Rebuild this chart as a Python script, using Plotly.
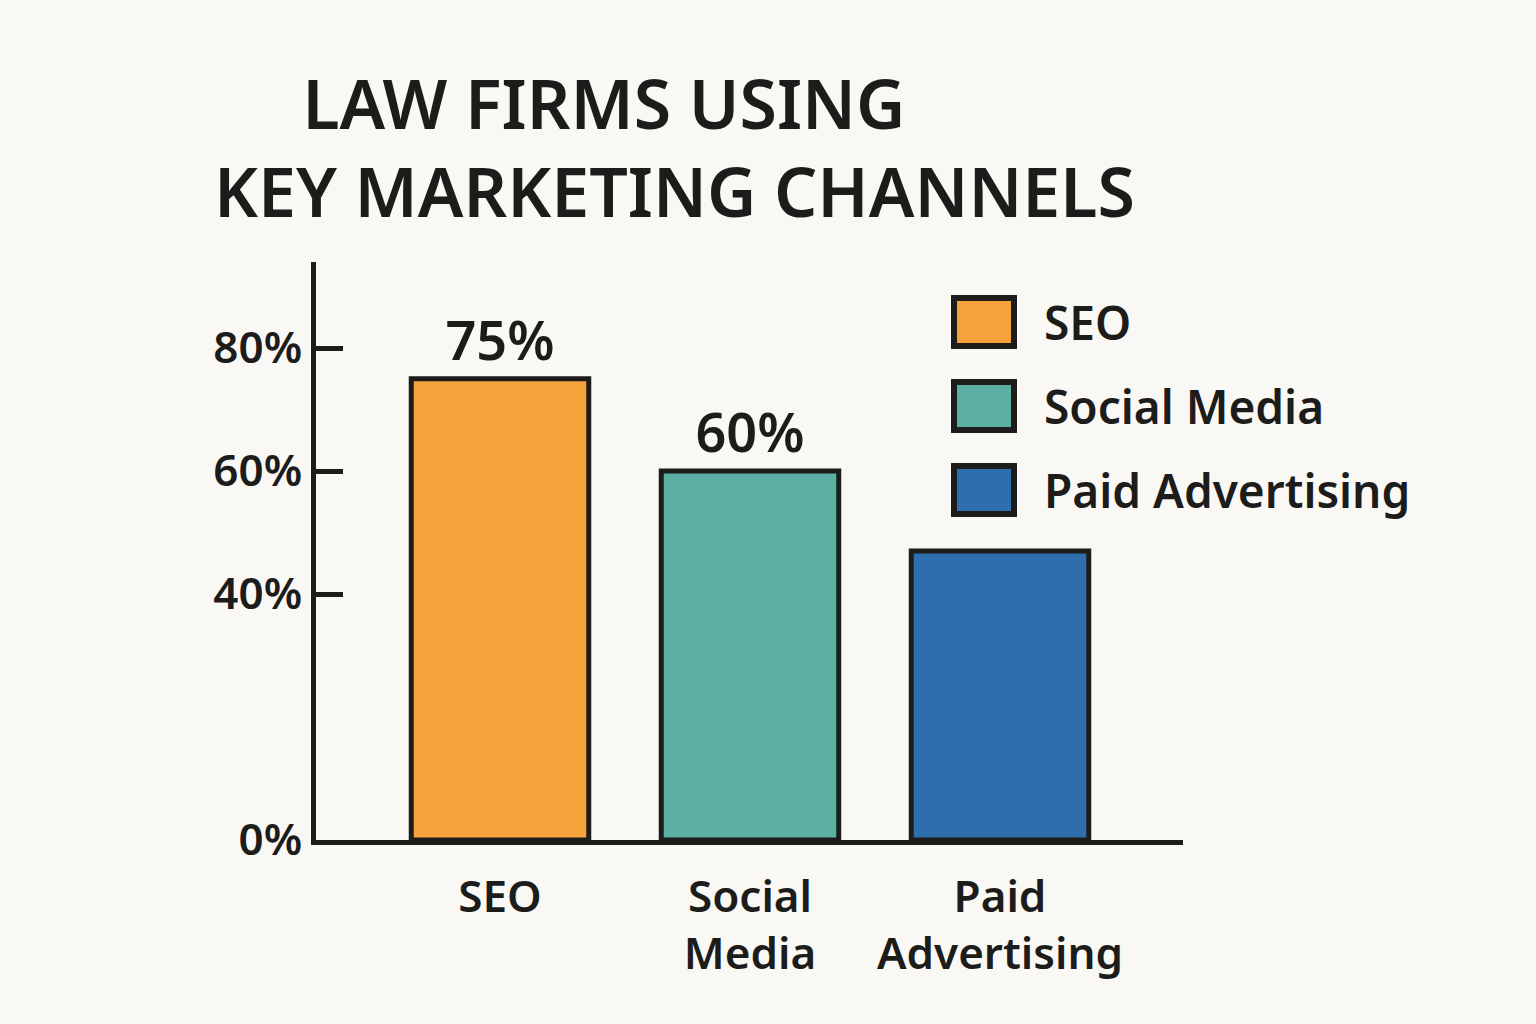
import plotly.graph_objects as go

# ---- data ----
categories = ["SEO", "Social Media", "Paid Advertising"]
tick_labels_x = ["SEO", "Social<br>Media", "Paid<br>Advertising"]
values = [75, 60, 47]
value_labels = ["75%", "60%", ""]
y_tick_vals = [0, 40, 60, 80]
y_tick_text = ["0%", "40%", "60%", "80%"]
title_lines = ["LAW FIRMS USING", "KEY MARKETING CHANNELS"]

# ---- style ----
colors = ["#F6A33B", "#5BB0A3", "#2F6EAD"]
BG = "#FAF8F4"
INK = "#1c1c1a"
FONT = "Noto Sans"
W = 600

fig = go.Figure()
fig.add_trace(go.Bar(
    x=list(range(len(categories))),
    y=values,
    width=0.71,
    marker=dict(color=colors, line=dict(color=INK, width=5)),
    text=value_labels,
    textposition="outside",
    textfont=dict(family=FONT, size=54, color=INK, weight=W),
    cliponaxis=False,
    showlegend=False,
))

L, R, T, B = 316, 1183, 262, 840
pw, ph = R - L, B - T

def px(xp):
    return (xp - L) / pw

def py(yp):
    return (B - yp) / ph

fig.update_layout(
    width=1536, height=1024,
    margin=dict(l=L, r=1536 - R, t=T, b=1024 - B, pad=0),
    paper_bgcolor=BG, plot_bgcolor=BG,
    font=dict(family=FONT, color=INK),
    xaxis=dict(
        range=[-0.736, 2.732],
        tickvals=list(range(len(categories))),
        ticktext=tick_labels_x,
        showgrid=False, zeroline=False,
        showline=True, linecolor=INK, linewidth=5,
        ticks="", tickfont=dict(family=FONT, size=44, color=INK, weight=W),
        ticklabelstandoff=14,
    ),
    yaxis=dict(
        range=[0, 94],
        tickvals=y_tick_vals,
        ticktext=y_tick_text,
        showgrid=False, zeroline=False,
        showline=True, linecolor=INK, linewidth=5,
        ticks="inside", ticklen=27, tickwidth=5, tickcolor=INK,
        tickfont=dict(family=FONT, size=44, color=INK, weight=W),
        ticklabelstandoff=0,
    ),
    bargap=0.29,
)

# title: one two-line block, first line indented
title_text = "&nbsp;" * 5 + title_lines[0] + "<br>" + title_lines[1]
fig.add_annotation(text=title_text, xref="paper", yref="paper",
                   x=px(212), y=py(146), xanchor="left", yanchor="middle",
                   align="left", showarrow=False,
                   font=dict(family=FONT, size=68, color=INK, weight=W))

# custom legend
for i, (name, col) in enumerate(zip(categories, colors)):
    top = 298 + i * 84
    fig.add_shape(type="rect", xref="paper", yref="paper",
                  x0=px(954), x1=px(1014), y0=py(top), y1=py(top + 48),
                  fillcolor=col, line=dict(color=INK, width=6))
    fig.add_annotation(text=name, xref="paper", yref="paper",
                       x=px(1042), y=py(top + 24), xanchor="left", yanchor="middle",
                       showarrow=False, font=dict(family=FONT, size=46, color=INK, weight=W))

fig.write_html("out.html")
